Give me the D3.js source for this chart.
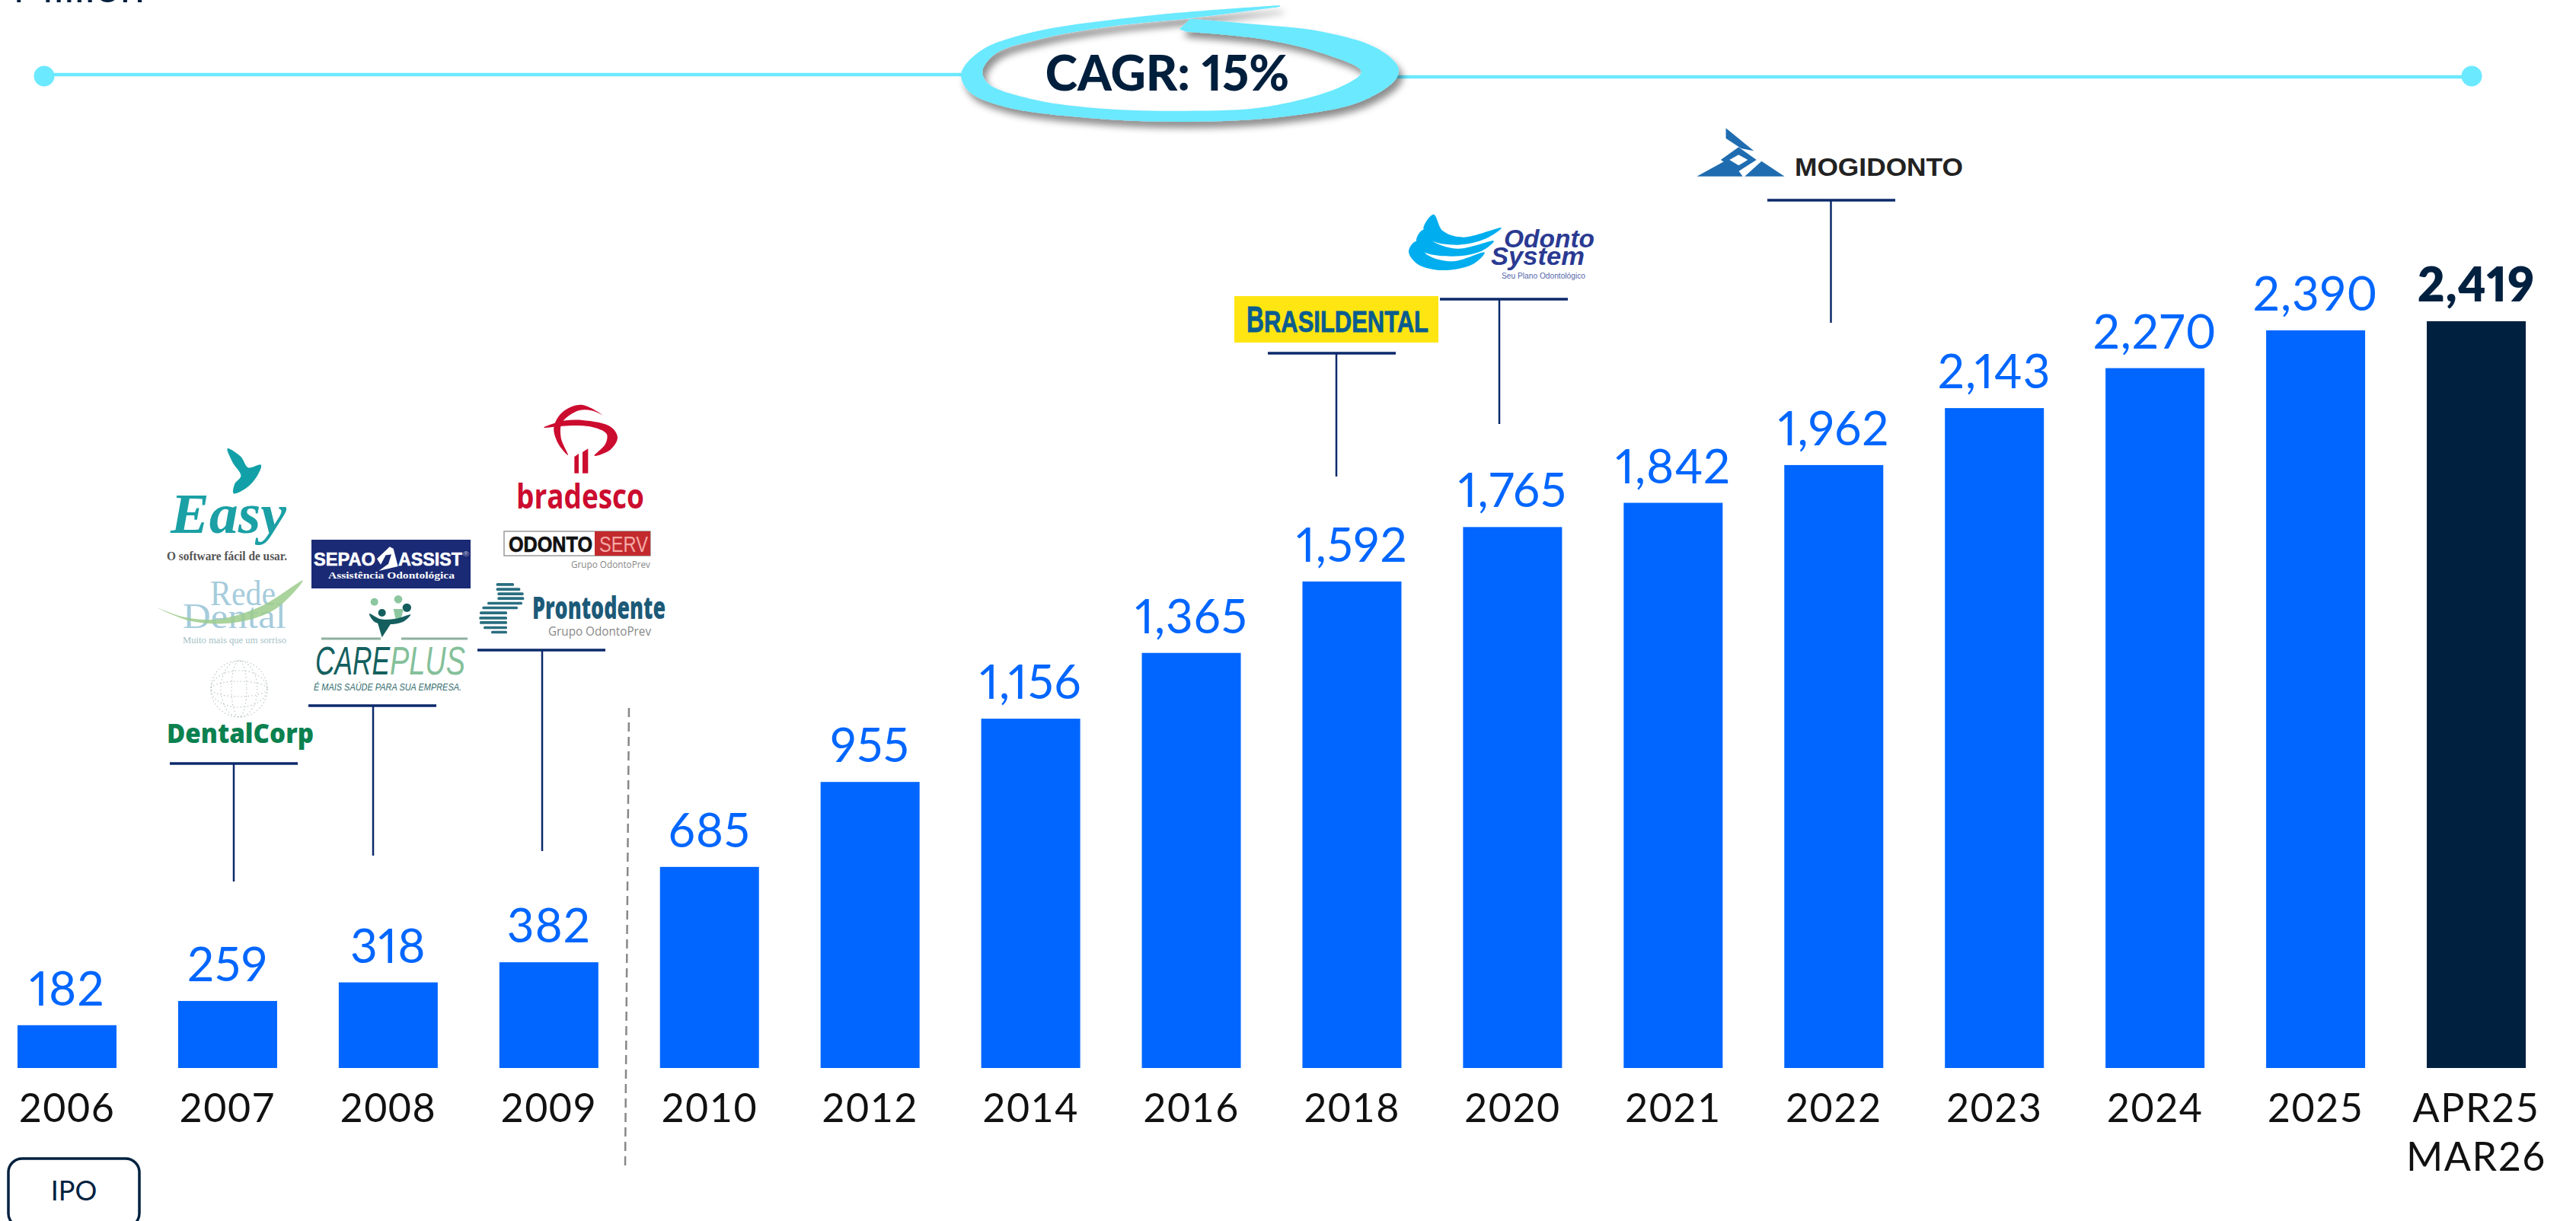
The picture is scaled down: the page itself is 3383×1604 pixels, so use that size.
<!DOCTYPE html>
<html><head><meta charset="utf-8">
<script src="https://cdnjs.cloudflare.com/ajax/libs/d3/7.8.5/d3.min.js"></script>
<style>html,body{margin:0;padding:0;background:#fff;overflow:hidden}svg{display:block}
.num{font-variant-numeric:proportional-nums;font-feature-settings:"pnum" 1}</style>
</head><body><svg id="c" width="3383" height="1604"></svg>
<script>
const categories=["2006","2007","2008","2009","2010","2012","2014","2016","2018","2020","2021","2022","2023","2024","2025","APR25\nMAR26"];
const values=[182,259,318,382,685,955,1156,1365,1592,1765,1842,1962,2143,2270,2390,2419];
const highlightCategory="APR25\nMAR26";
const cagrLabel="CAGR: 15%";
const unitLabel="Million";
const ipoLabel="IPO";

const BLUE="#0066FF",NAVY="#002040",CYAN="#6BE9FF",LINE="#0B2A6B";
const svg=d3.select("#c");
const FONT="Lato";
const x=d3.scaleBand().domain(categories).range([23,3317]).paddingInner(0.3837).paddingOuter(0);
const y=d3.scaleLinear().domain([46,2419]).range([1403,422]);
const defs=svg.append("defs");
const f=defs.append("filter").attr("id","sh").attr("x","-10%").attr("y","-30%").attr("width","120%").attr("height","170%");
f.append("feDropShadow").attr("dx",5).attr("dy",8).attr("stdDeviation",5).attr("flood-color","#000").attr("flood-opacity",0.45);

/* helpers */
function T(g,s,xa,xb,base,o={}){
  const t=g.append("text").attr("x",xa).attr("y",base).text(s)
   .attr("font-family",o.font||"Liberation Sans").attr("font-size",o.size||20)
   .attr("font-weight",o.weight||400).attr("font-style",o.style||"normal").attr("fill",o.fill||"#000");
  if(xb!=null){t.attr("textLength",xb-xa).attr("lengthAdjust","spacingAndGlyphs");}
  if(o.bold)t.attr("stroke",o.fill||"#000").attr("stroke-width",o.bold);
  return t;
}
const closed=d3.line().curve(d3.curveCatmullRomClosed.alpha(0.5));
const poly=p=>"M"+p.join("L")+"Z";
const map=(ox,oy,sx,sy)=>pts=>pts.map(p=>[ox+p[0]/sx,oy+p[1]/sy]);

/* top rule and CAGR brush */
const topG=svg.append("g");
topG.append("line").attr("x1",58).attr("x2",1270).attr("y1",98).attr("y2",98).attr("stroke",CYAN).attr("stroke-width",4.5);
topG.append("line").attr("x1",1830).attr("x2",3246).attr("y1",101).attr("y2",101).attr("stroke",CYAN).attr("stroke-width",4.5);
topG.append("ellipse").attr("cx",58).attr("cy",100).attr("rx",13.5).attr("ry",13.5).attr("fill",CYAN);
topG.append("ellipse").attr("cx",3246).attr("cy",100).attr("rx",13.5).attr("ry",13.5).attr("fill",CYAN);
const mz=map(1150,0,1.96,3);
const outerA=mz([[1040,21],[700,62],[400,128],[270,200],[220,290],[240,360],[330,420],[550,465],[800,480],[1050,460],[1250,400],[1340,310],[1345,265],[1290,190],[1150,125],[950,92],[810,74]]);
const innerA=mz([[800,125],[1000,155],[1150,210],[1250,282],[1200,340],[1010,420],[800,437],[560,425],[400,390],[290,330],[275,280],[310,210],[420,155],[600,105],[810,72],[1040,27]]);
const brush=d3.line().curve(d3.curveCatmullRom.alpha(0.5));
const d1=brush(outerA), d2=brush(innerA).replace(/^M/,"L");
const notch=mz([[782,115]]);
topG.append("path").attr("d",d1+"L"+notch[0].join(",")+d2+"Z").attr("fill",CYAN).attr("filter","url(#sh)");
topG.append("text").attr("class","num").attr("x",1533).attr("y",119).attr("text-anchor","middle").attr("font-family",FONT).attr("font-weight",900).attr("font-size",64).attr("fill","#001F3D").text(cagrLabel);

/* unit, clipped at the top edge */
T(svg,unitLabel,17,190,3,{font:FONT,size:52,fill:"#001F3D"});

/* bars */
svg.append("g").selectAll("rect").data(categories).join("rect")
  .attr("x",d=>x(d)).attr("width",x.bandwidth())
  .attr("y",(d,i)=>y(values[i])).attr("height",(d,i)=>y.range()[0]-y(values[i]))
  .attr("fill",d=>d===highlightCategory?NAVY:BLUE);

/* value labels */
const fmt=d3.format(",");
svg.append("g").selectAll("text").data(categories).join("text")
  .attr("class","num")
  .attr("x",d=>x(d)+x.bandwidth()/2).attr("y",(d,i)=>y(values[i])-26)
  .attr("text-anchor","middle").attr("font-family",FONT)
  .attr("font-size",62).attr("letter-spacing",1)
  .attr("font-weight",d=>d===highlightCategory?800:400)
  .attr("fill",d=>d===highlightCategory?NAVY:BLUE)
  .text((d,i)=>fmt(values[i]));

/* category axis */
const axis=d3.axisBottom(x).tickSize(0).tickPadding(0);
const ax=svg.append("g").attr("transform","translate(0,1403)").call(axis);
ax.select(".domain").remove();
ax.selectAll("text").each(function(d){
  const t=d3.select(this);t.text(null).attr("y",null).attr("dy",null)
   .attr("font-family",FONT).attr("font-size",52).attr("fill","#111").attr("letter-spacing",1.5);
  d.split("\n").forEach((s,i)=>t.append("tspan").attr("x",0).attr("y",71+i*64).text(s));
});

/* IPO box */
svg.append("rect").attr("x",11).attr("y",1522).attr("width",172).attr("height",90).attr("rx",18).attr("fill","none").attr("stroke","#00213F").attr("stroke-width",3.5);
svg.append("text").attr("x",97).attr("y",1577).attr("text-anchor","middle").attr("font-family",FONT).attr("font-size",36).attr("fill","#00213F").text(ipoLabel);

/* dashed divider */
svg.append("line").attr("x1",826).attr("y1",930).attr("x2",821).attr("y2",1532).attr("stroke","#888").attr("stroke-width",2.5).attr("stroke-dasharray","12 7");

/* connectors */
const conn=svg.append("g").attr("stroke",LINE);
[[223,391,1003,307,1158],[405,573,927,490,1124],[627,795,854,712,1118],[1665,1833,464,1755,626],[1891,2059,393,1969,557],[2321,2489,263,2404.5,424]].forEach(c=>{
  conn.append("line").attr("x1",c[0]).attr("x2",c[1]).attr("y1",c[2]).attr("y2",c[2]).attr("stroke-width",3.5);
  conn.append("line").attr("x1",c[3]).attr("x2",c[3]).attr("y1",c[2]).attr("y2",c[4]).attr("stroke-width",2.5);
});

/* ---- logos ---- */
const lg=svg.append("g");
const m3=map(180,500,2.09,2.8), m4=map(1580,140,1.493,3), m9=map(620,520,3,3), m10=map(400,700,3,3);
const P=(d,fill,op)=>{const p=lg.append("path").attr("d",d).attr("fill",fill);if(op)p.attr("opacity",op);return p;};

/* Easy */
P(closed(m3([[248,250],[285,280],[305,320],[340,310],[330,350],[300,395],[265,415],[268,380],[285,350],[262,300]])),"#12A0A8");
T(lg,"Easy",224,376,700,{font:"Liberation Serif",size:74,weight:700,style:"italic",fill:"#1AA0A5"});
T(lg,"O software fácil de usar.",219,377,736,{font:"Liberation Serif",size:17,weight:700,fill:"#555"});
/* Rede Dental */
T(lg,"Rede",276,362,795,{font:"Liberation Serif",size:46,fill:"#A6CCDC"});
T(lg,"Dental",240,376,825,{font:"Liberation Serif",size:46,fill:"#A6CCDC"});
P(closed(m3([[55,835],[130,870],[220,878],[340,830],[455,735],[380,840],[270,890],[150,885]])),"#9CCB8C",0.85);
T(lg,"Muito mais que um sorriso",240,376,845,{font:"Liberation Serif",size:13,fill:"#A5BFC6"});
/* globe */
const gl=lg.append("g").attr("fill","none").attr("stroke","#B9C4BE").attr("stroke-width",1.1).attr("stroke-dasharray","1.5 3");
[[37,37],[24,37],[10,37],[37,24],[37,10]].forEach(r=>gl.append("ellipse").attr("cx",314).attr("cy",905).attr("rx",r[0]).attr("ry",r[1]));
/* DentalCorp */
T(lg,"DentalCorp",219,412,976,{font:"Open Sans",size:36,weight:800,fill:"#0B8150"});

/* Sepao */
lg.append("rect").attr("x",409).attr("y",709).attr("width",209).attr("height",64).attr("fill","#1A2A75");
T(lg,"SEPAO",412,493,743,{size:24,weight:700,fill:"#fff",bold:0.6});
T(lg,"ASSIST",523,607,743,{size:24,weight:700,fill:"#fff",bold:0.6});
P(poly(m10([[285,102],[335,55],[350,62],[368,132],[292,150],[330,122],[342,85],[320,88],[300,125]])),"#fff");
T(lg,"®",608,616,731,{size:9,fill:"#ccd"});
T(lg,"Assistência Odontológica",431,597,760,{font:"Liberation Serif",size:13,weight:700,fill:"#fff"});
/* Careplus */
[[275,272,15,"#8CC79F"],[369,262,16,"#8CC79F"],[305,315,15,"#155E5E"],[403,295,17,"#155E5E"]].forEach(c=>{
  const q=m10([[c[0],c[1]]])[0];lg.append("circle").attr("cx",q[0]).attr("cy",q[1]).attr("r",c[2]/3).attr("fill",c[3]);});
P(poly(m10([[350,300],[390,300],[378,345],[360,345]])),"#8CC79F");
P(poly(m10([[285,345],[345,350],[305,412]])),"#155E5E");
P(closed(m10([[255,318],[300,340],[360,338],[418,322],[385,352],[320,360],[275,350]])),"#155E5E");
lg.append("line").attr("x1",422).attr("x2",500).attr("y1",839).attr("y2",839).attr("stroke","#8FB09F").attr("stroke-width",3);
lg.append("line").attr("x1",527).attr("x2",614).attr("y1",839).attr("y2",839).attr("stroke","#8FB09F").attr("stroke-width",3);
T(lg,"CARE",414,512,886,{size:51,style:"italic",fill:"#14605F"});
T(lg,"PLUS",512,611,886,{size:51,style:"italic",fill:"#84C09A"});
T(lg,"É MAIS SAÚDE PARA SUA EMPRESA.",412,606,907,{size:13,style:"italic",fill:"#336C6E"});

/* Bradesco */
const R="#CC0C2F";
P(closed(m9([[283,125],[370,97],[470,100],[550,125],[573,165],[545,212],[482,236],[525,190],[530,150],[470,122],[380,118]])),R);
P(closed(m9([[518,78],[430,35],[355,65],[322,125],[340,190],[378,234],[350,165],[355,105],[420,58],[470,58]])),R);
P(poly(m9([[403,240],[420,228],[420,305],[403,305]])),R);
P(poly(m9([[435,222],[457,208],[457,305],[435,305]])),R);
T(lg,"bradesco",678,846,668,{font:"Open Sans",size:45,weight:700,fill:R});
/* OdontoServ */
lg.append("rect").attr("x",662).attr("y",698).attr("width",192).attr("height",32).attr("fill","#fff").attr("stroke","#9a9a9a").attr("stroke-width",1.5);
lg.append("rect").attr("x",781).attr("y",698).attr("width",73).attr("height",32).attr("fill","#C22A2E");
T(lg,"ODONTO",668,778,725,{size:29,weight:700,fill:"#111",bold:0.7});
T(lg,"SERV",787,851,725,{size:29,fill:"#F4A9A5"});
T(lg,"Grupo OdontoPrev",750,854,746,{font:"Open Sans",size:13,fill:"#888"});
/* Prontodente */
[[95,165,738],[95,190,757],[100,203,775],[100,205,793],[60,198,812],[40,180,830],[30,138,850],[28,138,870],[30,138,888],[45,138,908],[75,138,926]].forEach(r=>{
  const a=m9([[r[0],r[2]],[r[1],r[2]+11]]);
  lg.append("rect").attr("x",a[0][0]).attr("y",a[0][1]).attr("width",a[1][0]-a[0][0]).attr("height",a[1][1]-a[0][1]).attr("rx",1.5).attr("fill","#2A6E80");
});
T(lg,"Prontodente",699,874,813,{font:"Open Sans",size:41,weight:800,fill:"#1C5A78"});
T(lg,"Grupo OdontoPrev",720,855,835,{font:"Open Sans",size:16,fill:"#888"});

/* Brasildental */
lg.append("rect").attr("x",1621).attr("y",389).attr("width",268).attr("height",61).attr("fill","#FFE612");
T(lg,"B",1637,1660,436,{size:48,weight:700,fill:"#0B5C8E",bold:0.8});
T(lg,"RASILDENTAL",1660,1876,436,{size:38,weight:700,fill:"#0B5C8E",bold:0.8});
/* Odonto System */
[[[452,425],[470,490],[510,515],[585,478],[555,520],[500,545],[445,525],[432,480]],
 [[432,485],[450,530],[500,560],[570,530],[545,570],[490,590],[430,570],[418,525]],
 [[418,530],[440,585],[490,610],[552,575],[530,620],[470,645],[420,620],[403,570]]].forEach(c=>P(closed(m4(c)),"#00AEEF"));
T(lg,"Odonto",1975,2094,325,{size:33,weight:700,style:"italic",fill:"#2A3A92"});
T(lg,"System",1958,2081,348,{size:33,weight:700,style:"italic",fill:"#2A3A92"});
T(lg,"Seu Plano Odontológico",1972,2082,366,{size:10,fill:"#5566AA"});
/* Mogidonto */
const MB="#1F6CB0";
P(poly(m4([[968,275],[1032,205],[1058,275]])),MB);
P(poly(m4([[1062,275],[1095,215],[1140,275]])),MB);
P(poly(m4([[1050,160],[1085,210],[1050,255],[1015,210]])),MB);
P(poly(m4([[1050,190],[1068,210],[1050,232],[1032,210]])),"#fff");
P(poly(m4([[1025,85],[1080,175],[1055,165],[1025,125]])),MB);
T(lg,"MOGIDONTO",2357,2578,231,{size:33,weight:700,fill:"#222"});
</script></body></html>
